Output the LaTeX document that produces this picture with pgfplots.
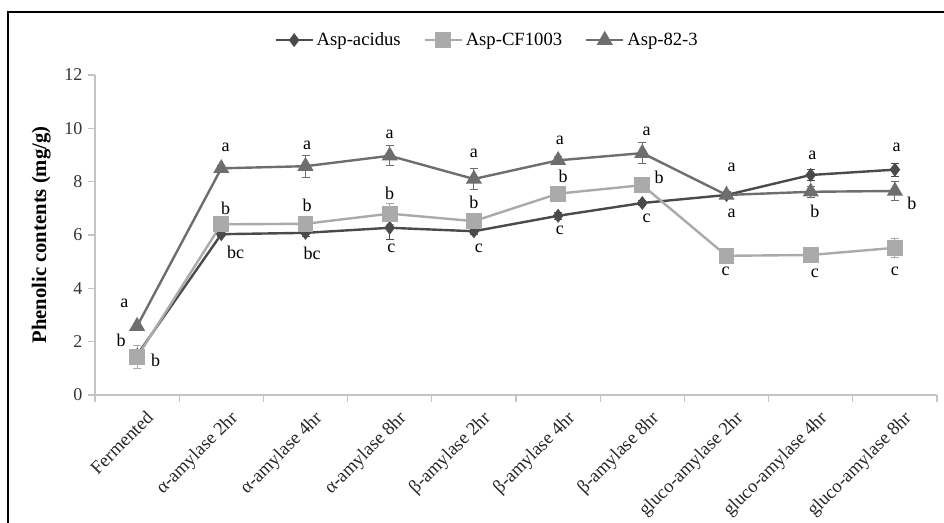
\documentclass[border=0pt]{standalone}
\usepackage{fontspec}
\setmainfont{Liberation Serif}
\usepackage{pgfplots}
\usepackage{pgfplotstable}
\pgfplotsset{compat=1.18}
\definecolor{cA}{HTML}{4A4A4A}
\definecolor{cB}{HTML}{AAAAAA}
\definecolor{cC}{HTML}{6E6E6E}
\definecolor{axg}{HTML}{C4C4C4}

\pgfplotstableread{
x y e
0 1.50 0.10
1 6.03 0.10
2 6.08 0.12
3 6.27 0.45
4 6.14 0.12
5 6.72 0.12
6 7.20 0.10
7 7.50 0.10
8 8.25 0.20
9 8.45 0.25
}\acidus
\pgfplotstableread{
x y e
0 1.42 0.42
1 6.40 0.15
2 6.42 0.12
3 6.80 0.40
4 6.52 0.15
5 7.55 0.25
6 7.87 0.12
7 5.22 0.10
8 5.25 0.12
9 5.52 0.35
}\cf
\pgfplotstableread{
x y e
0 2.58 0.10
1 8.50 0.10
2 8.58 0.42
3 8.97 0.38
4 8.10 0.40
5 8.80 0.15
6 9.07 0.40
7 7.50 0.12
8 7.62 0.20
9 7.65 0.35
}\eightytwo

\begin{document}
\begin{tikzpicture}[x=1pt,y=1pt]
\path[use as bounding box] (0,0) rectangle (708,392.25);
\draw[line width=1.4pt] (6,0) -- (6,383.25) -- (708,383.25);
\begin{axis}[
  at={(71.25pt,96pt)}, anchor=south west,
  scale only axis, width=631.5pt, height=240pt,
  xmin=-0.5, xmax=9.5, ymin=0, ymax=12,
  axis lines*=left,
  axis line style={axg, line width=0.9pt},
  tick align=outside,
  major tick length=0pt, minor tick length=5pt,
  tick style={axg, line width=0.8pt},
  xtick={0,...,9},
  minor xtick={-0.5,0.5,...,9.5},
  ytick={0,2,...,12},
  minor ytick={0,2,...,12},
  xticklabels={Fermented,α-amylase 2hr,α-amylase 4hr,α-amylase 8hr,β-amylase 2hr,β-amylase 4hr,β-amylase 8hr,gluco-amylase 2hr,gluco-amylase 4hr,gluco-amylase 8hr},
  xticklabel style={xshift=6pt, yshift=-9.5pt, rotate=45, anchor=north east, font=\fontsize{14}{15}\selectfont, inner sep=1pt, text=black!85},
  yticklabel style={font=\fontsize{13.5}{14}\selectfont, text=black!80, xshift=-6pt},
  /pgf/number format/assume math mode=true,
  ylabel={\textbf{Phenolic contents (mg/g)}},
  ylabel style={font=\fontsize{15.5}{16}\selectfont, at={(-0.047,0.5)}},
  legend columns=3,
  legend style={draw=none, fill=none, at={(0.466,1.109)}, anchor=center,
    font=\fontsize{14}{15}\selectfont,
    /tikz/every even column/.append style={column sep=15pt}},
  legend image code/.code={\draw[#1] (0pt,0pt) -- (28pt,0pt); \draw[#1, mark repeat=1] plot coordinates {(14pt,0pt)};},
  clip=false,
  error bars/error bar style={line width=0.7pt},
  error bars/error mark options={rotate=90, mark size=3pt, line width=0.7pt},
]
\addplot[cA, line width=1.8pt, mark=diamond*, mark size=3.8pt, mark options={solid},
  error bars/.cd, y dir=both, y explicit] table[x=x, y=y, y error=e] {\acidus};
\addlegendentry{Asp-acidus}
\addplot[cB, line width=1.8pt, mark=square*, mark size=5pt, mark options={solid},
  error bars/.cd, y dir=both, y explicit] table[x=x, y=y, y error=e] {\cf};
\addlegendentry{Asp-CF1003}
\addplot[cC, line width=1.8pt, mark=triangle*, mark size=5.2pt, mark options={solid},
  error bars/.cd, y dir=both, y explicit] table[x=x, y=y, y error=e] {\eightytwo};
\addlegendentry{Asp-82-3}

\begin{scope}[every node/.style={font=\fontsize{13.5}{14}\selectfont, inner sep=0pt}]
\node at (axis cs:-0.15,3.45) {a};
\node at (axis cs:-0.19,2.06) {b};
\node at (axis cs:0.22,1.30) {b};
\node at (axis cs:1.05,9.30) {a};
\node at (axis cs:1.05,7.00) {b};
\node at (axis cs:1.17,5.36) {bc};
\node at (axis cs:2.02,9.37) {a};
\node at (axis cs:2.02,7.12) {b};
\node at (axis cs:2.08,5.32) {bc};
\node at (axis cs:3.00,9.79) {a};
\node at (axis cs:3.00,7.57) {b};
\node at (axis cs:3.02,5.51) {c};
\node at (axis cs:4.00,9.07) {a};
\node at (axis cs:4.00,7.24) {b};
\node at (axis cs:4.06,5.51) {c};
\node at (axis cs:5.02,9.53) {a};
\node at (axis cs:5.06,8.20) {b};
\node at (axis cs:5.02,6.19) {c};
\node at (axis cs:6.05,9.90) {a};
\node at (axis cs:6.20,8.18) {b};
\node at (axis cs:6.05,6.63) {c};
\node at (axis cs:7.06,8.55) {a};
\node at (axis cs:7.06,6.82) {a};
\node at (axis cs:6.99,4.62) {c};
\node at (axis cs:8.02,9.00) {a};
\node at (axis cs:8.05,6.90) {b};
\node at (axis cs:8.05,4.57) {c};
\node at (axis cs:9.02,9.30) {a};
\node at (axis cs:9.20,7.20) {b};
\node at (axis cs:9.00,4.65) {c};
\end{scope}
\end{axis}
\end{tikzpicture}
\end{document}
